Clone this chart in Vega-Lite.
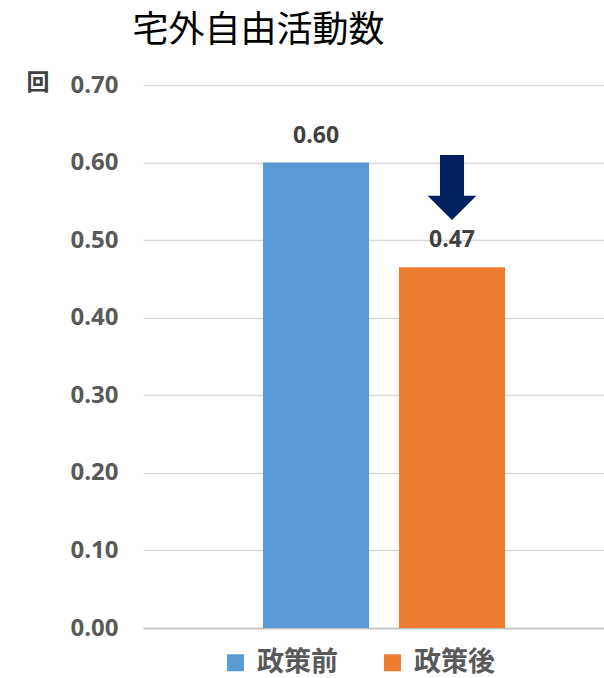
{
  "$schema": "https://vega.github.io/schema/vega-lite/v6.json",
  "autosize": {"type": "none"},
  "padding": {"left": 143, "top": 85, "right": 0, "bottom": 50},
  "width": 461,
  "height": 543,
  "background": "white",
  "title": {"text": "宅外自由活動数", "anchor": "middle", "frame": "group", "dx": -115, "offset": 21, "font": "Noto Sans CJK JP", "fontSize": 36, "fontWeight": "normal", "color": "#000000"},
  "config": {"view": {"stroke": null}},
  "datasets": {
    "bars": [
      {"group": "政策前", "value": 0.60, "label": "0.60"},
      {"group": "政策後", "value": 0.465, "label": "0.47"}
    ],
    "arrow": [
      {"group": "政策後", "value": 0.568}
    ]
  },
  "data": {"name": "bars"},
  "encoding": {
    "x": {"field": "group", "type": "nominal", "sort": ["政策前", "政策後"],
      "scale": {"paddingInner": 0.22, "paddingOuter": 0.805, "align": 0.548},
      "axis": {"title": null, "labels": false, "ticks": false, "domain": true, "domainColor": "#bfbfbf", "domainWidth": 1.5}},
    "y": {"field": "value", "type": "quantitative", "scale": {"domain": [0, 0.7]},
      "axis": {"title": "回", "titleAngle": 0, "titleX": -117, "titleY": -3, "titleAlign": "left", "titleBaseline": "middle",
        "titleFont": "Noto Sans CJK JP", "titleFontSize": 23, "titleFontWeight": "bold", "titleColor": "#404040",
        "values": [0, 0.1, 0.2, 0.3, 0.4, 0.5, 0.6, 0.7], "format": ".2f",
        "labelFont": "Open Sans", "labelFontSize": 24, "labelFontWeight": "bold", "labelColor": "#595959", "labelPadding": 25,
        "ticks": false, "domain": false, "gridColor": "#d9d9d9", "gridWidth": 1.5}}
  },
  "layer": [
    {"mark": {"type": "bar"},
     "encoding": {"color": {"field": "group", "type": "nominal",
       "scale": {"domain": ["政策前", "政策後"], "range": ["#5B9BD5", "#ED7D31"]},
       "legend": {"orient": "none", "legendX": 79, "legendY": 564, "direction": "horizontal", "title": null,
         "symbolType": "square", "symbolSize": 289, "symbolStrokeWidth": 0,
         "labelFont": "Noto Sans CJK JP", "labelFontSize": 27, "labelFontWeight": "bold", "labelColor": "#595959",
         "labelOffset": 8, "columnPadding": 41}}}},
    {"mark": {"type": "text", "baseline": "alphabetic", "dy": -20, "font": "Open Sans", "fontSize": 23, "fontWeight": "bold", "color": "#404040"},
     "encoding": {"text": {"field": "label"}}},
    {"data": {"name": "arrow"},
     "mark": {"type": "point", "shape": "M -0.37 -1 L 0.37 -1 L 0.37 0.26 L 0.75 0.26 L 0 1 L -0.75 0.26 L -0.37 0.26 Z", "filled": true, "fill": "#002060", "fillOpacity": 1, "opacity": 1, "size": 4225, "strokeWidth": 0}}
  ]
}
